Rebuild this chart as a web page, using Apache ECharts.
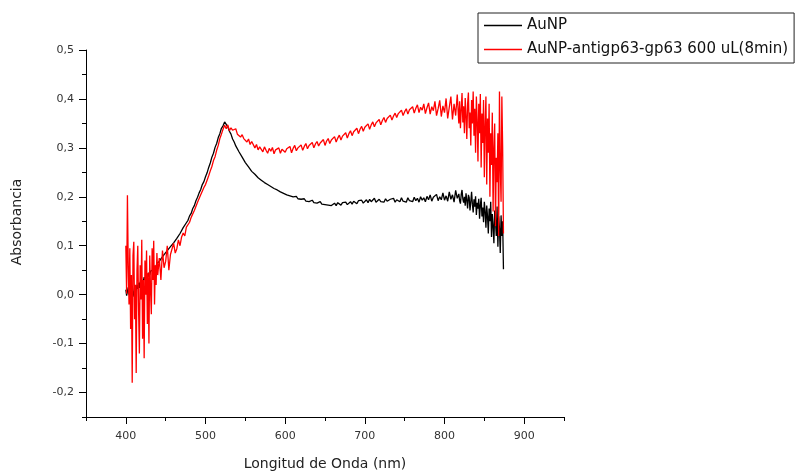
<!DOCTYPE html>
<html>
<head>
<meta charset="utf-8">
<script src="https://cdn.jsdelivr.net/npm/echarts@6/dist/echarts.min.js"></script>
<style>html,body{margin:0;padding:0;background:#fff}#c{width:804px;height:475px}</style>
</head>
<body>
<div id="c"></div>
<script>
const wavelength = [
400,401,402,403,404,405,406,407,408,409,
410,411,412,413,414,415,416,417,418,419,
420,421,422,423,424,425,426,427,428,429,
430,431,432,433,434,435,436,437,438,439,
440,
442,444,446,448,450,452,454,456,458,460,
462,464,466,468,470,472,474,476,478,480,
482,484,486,488,490,492,494,496,498,500,
502,504,506,508,510,512,514,516,518,520,
522,524,526,528,530,532,534,536,538,540,
542,544,546,548,550,552,554,556,558,560,
562,564,566,568,570,572,574,576,578,580,
582,584,586,588,590,592,594,596,598,600,
602,604,606,608,610,612,614,616,618,620,
622,624,626,628,630,632,634,636,638,640,
642,644,646,648,650,652,654,656,658,660,
662,664,666,668,670,672,674,676,678,680,
682,684,686,688,690,692,694,696,698,700,
702,704,706,708,710,712,714,716,718,720,
722,724,726,728,730,732,734,736,738,740,
742,744,746,748,750,752,754,756,758,760,
762,764,766,768,770,772,774,776,778,780,
782,784,786,788,790,792,794,796,798,800,
802,804,806,808,810,812,814,816,818,
819,820,821,822,823,824,825,826,827,828,
829,830,831,832,833,834,835,836,837,838,
839,840,841,842,843,844,845,846,847,848,
849,850,851,852,853,854,855,856,857,858,
859,860,861,862,863,864,865,866,867,868,
869,870,871,872,873,874
];
const aunp = [
0.010,-0.002,0.006,0.015,0.000,0.008,-0.006,0.004,0.012,-0.004,
0.006,0.016,-0.008,0.010,0.020,0.012,0.024,0.014,0.026,0.020,
0.030,0.022,0.028,0.036,0.030,0.038,0.034,0.042,0.037,0.045,
0.040,0.048,0.044,0.052,0.050,0.056,0.054,0.060,0.058,0.064,
0.063,
0.068,0.073,0.076,0.082,0.085,0.090,0.092,0.098,0.100,0.106,
0.109,0.115,0.119,0.125,0.129,0.137,0.140,0.147,0.152,0.161,
0.166,0.176,0.182,0.192,0.199,0.208,0.215,0.225,0.231,0.241,
0.249,0.260,0.269,0.281,0.289,0.301,0.309,0.321,0.329,0.340,
0.345,0.353,0.348,0.343,0.334,0.328,0.318,0.312,0.304,0.300,
0.292,0.289,0.281,0.277,0.270,0.267,0.261,0.259,0.252,0.251,
0.246,0.244,0.239,0.239,0.234,0.234,0.229,0.229,0.225,0.225,
0.221,0.221,0.217,0.217,0.214,0.214,0.210,0.211,0.207,0.208,
0.204,0.206,0.202,0.203,0.200,0.199,0.201,0.196,0.199,0.195,
0.193,0.196,0.191,0.195,0.190,0.189,0.193,0.188,0.191,0.187,
0.186,0.190,0.185,0.189,0.184,0.188,0.183,0.187,0.182,0.186,
0.187,0.182,0.188,0.184,0.183,0.188,0.185,0.189,0.184,0.188,
0.190,0.185,0.191,0.187,0.186,0.192,0.188,0.193,0.187,0.191,
0.194,0.188,0.195,0.190,0.189,0.197,0.189,0.193,0.195,0.190,
0.194,0.189,0.196,0.191,0.190,0.195,0.191,0.197,0.189,0.194,
0.196,0.190,0.198,0.191,0.195,0.189,0.198,0.192,0.196,0.190,
0.199,0.192,0.197,0.189,0.200,0.193,0.198,0.190,0.201,0.194,
0.204,0.191,0.199,0.195,0.205,0.192,0.200,0.194,0.208,0.193,
0.202,0.191,0.210,0.195,0.204,0.189,0.213,0.197,0.206,
0.192,0.186,0.205,0.214,0.196,0.188,0.200,0.182,0.207,0.193,
0.176,0.204,0.198,0.172,0.190,0.210,0.185,0.168,0.195,0.180,
0.201,0.163,0.188,0.176,0.196,0.155,0.183,0.198,0.160,0.178,
0.148,0.190,0.170,0.137,0.182,0.160,0.125,0.176,0.150,0.190,
0.118,0.165,0.140,0.105,0.172,0.150,0.120,0.180,0.098,0.160,
0.135,0.085,0.162,0.120,0.150,0.052
];
const aunpAntigp63 = [
0.100,0.002,0.203,0.060,-0.020,0.095,-0.070,0.040,-0.180,0.080,
0.108,-0.050,0.020,-0.160,0.050,0.100,-0.030,-0.120,0.060,-0.010,
0.112,-0.090,0.030,-0.130,0.070,0.000,0.090,-0.060,0.045,-0.100,
0.080,0.010,-0.040,0.095,0.030,0.110,-0.020,0.060,0.020,0.085,
0.040,
0.075,0.030,0.090,0.055,0.068,0.100,0.050,0.082,0.078,0.105,
0.085,0.094,0.112,0.100,0.118,0.126,0.120,0.138,0.140,0.148,
0.158,0.160,0.172,0.176,0.189,0.192,0.204,0.207,0.219,0.225,
0.234,0.243,0.253,0.262,0.274,0.282,0.295,0.305,0.319,0.328,
0.338,0.346,0.339,0.347,0.335,0.341,0.336,0.332,0.339,0.328,
0.332,0.322,0.327,0.319,0.323,0.312,0.318,0.307,0.313,0.310,
0.300,0.307,0.296,0.302,0.299,0.292,0.302,0.295,0.289,0.299,
0.293,0.301,0.288,0.296,0.292,0.300,0.289,0.297,0.301,0.291,
0.298,0.294,0.303,0.290,0.299,0.305,0.294,0.300,0.297,0.306,
0.295,0.303,0.309,0.298,0.305,0.301,0.311,0.300,0.308,0.313,
0.304,0.310,0.307,0.317,0.305,0.314,0.319,0.309,0.316,0.313,
0.323,0.312,0.320,0.326,0.316,0.324,0.321,0.331,0.320,0.329,
0.335,0.325,0.333,0.330,0.340,0.329,0.338,0.344,0.334,0.342,
0.339,0.349,0.338,0.347,0.353,0.343,0.351,0.348,0.358,0.347,
0.356,0.362,0.352,0.360,0.357,0.367,0.357,0.365,0.371,0.362,
0.370,0.367,0.377,0.366,0.374,0.380,0.369,0.378,0.374,0.384,
0.371,0.381,0.388,0.372,0.383,0.377,0.390,0.370,0.382,0.392,
0.369,0.384,0.376,0.395,0.366,0.380,0.397,0.364,0.386,0.372,
0.401,0.360,0.383,0.405,0.358,0.390,0.366,0.409,0.350,
0.395,0.340,0.378,0.412,0.352,0.385,0.330,0.402,0.365,0.318,
0.390,0.413,0.340,0.372,0.305,0.398,0.350,0.415,0.325,0.380,
0.290,0.405,0.355,0.272,0.390,0.330,0.410,0.260,0.370,0.310,
0.398,0.240,0.345,0.405,0.225,0.360,0.290,0.390,0.200,0.330,
0.265,0.372,0.170,0.300,0.350,0.140,0.280,0.230,0.330,0.120,
0.415,0.260,0.190,0.405,0.300,0.125
];
const seriesNames = ['AuNP', 'AuNP-antigp63-gp63 600 uL(8min)'];
const xMajorTicks = [400, 500, 600, 700, 800, 900];
const xMinorTicks = [350, 450, 550, 650, 750, 850, 950];
const yMajorTicks = [-0.2, -0.1, 0, 0.1, 0.2, 0.3, 0.4, 0.5];
const yMinorTicks = [-0.25, -0.15, -0.05, 0.05, 0.15, 0.25, 0.35, 0.45];

const FONT = '"DejaVu Sans", sans-serif';
const pair = arr => wavelength.map((w, i) => [w, arr[i]]);
const chart = echarts.init(document.getElementById('c'), null, {renderer: 'canvas'});
chart.setOption({
  animation: false,
  backgroundColor: '#fff',
  grid: {left: 86, top: 50, right: 240, bottom: 58, containLabel: false, outerBoundsMode: 'none'},
  legend: {
    left: 478, top: 13, orient: 'vertical',
    data: seriesNames,
    icon: 'rect', itemWidth: 38, itemHeight: 1.5, itemGap: 9,
    padding: [5, 6, 6, 6],
    backgroundColor: '#fff', borderColor: '#222', borderWidth: 1, borderRadius: 0,
    textStyle: {fontFamily: FONT, fontSize: 15, color: '#111'}
  },
  xAxis: [{
    type: 'value', min: 350, max: 950, interval: 50,
    name: 'Longitud de Onda (nm)', nameLocation: 'middle', nameGap: 40,
    nameTextStyle: {fontFamily: FONT, fontSize: 14, color: '#222'},
    axisLine: {show: true, onZero: false, lineStyle: {color: '#000', width: 1}},
    axisTick: {show: true, length: 7, customValues: xMajorTicks, lineStyle: {color: '#000'}},
    axisLabel: {customValues: xMajorTicks, margin: 14, fontFamily: FONT, fontSize: 11, color: '#333'},
    splitLine: {show: false}
  }, {
    type: 'value', min: 350, max: 950, interval: 50, position: 'bottom',
    axisLine: {show: false, onZero: false},
    axisTick: {show: true, length: 4, customValues: xMinorTicks, lineStyle: {color: '#000'}},
    axisLabel: {show: false}, splitLine: {show: false}
  }],
  yAxis: [{
    type: 'value', min: -0.25, max: 0.5, interval: 0.05,
    axisLine: {show: true, onZero: false, lineStyle: {color: '#000', width: 1}},
    axisTick: {show: true, length: 7, customValues: yMajorTicks, lineStyle: {color: '#000'}},
    axisLabel: {customValues: yMajorTicks, margin: 12, fontFamily: FONT, fontSize: 11, color: '#333',
      formatter: v => v.toFixed(1).replace('.', ',')},
    splitLine: {show: false}
  }, {
    type: 'value', min: -0.25, max: 0.5, interval: 0.05, position: 'left',
    axisLine: {show: false, onZero: false},
    axisTick: {show: true, length: 4, customValues: yMinorTicks, lineStyle: {color: '#000'}},
    axisLabel: {show: false}, splitLine: {show: false}
  }],
  graphic: [{
    type: 'text', x: 17, y: 222, rotation: Math.PI / 2,
    style: {text: 'Absorbancia', font: '14px ' + FONT, fill: '#222', align: 'center', verticalAlign: 'middle'}
  }],
  series: [{
    name: seriesNames[0], type: 'line', data: pair(aunp), showSymbol: false, symbol: 'none',
    lineStyle: {color: '#000', width: 1.3}, itemStyle: {color: '#000'}
  }, {
    name: seriesNames[1], type: 'line', data: pair(aunpAntigp63), showSymbol: false, symbol: 'none',
    lineStyle: {color: '#ff0000', width: 1.3}, itemStyle: {color: '#ff0000'}
  }]
});
</script>
</body>
</html>
